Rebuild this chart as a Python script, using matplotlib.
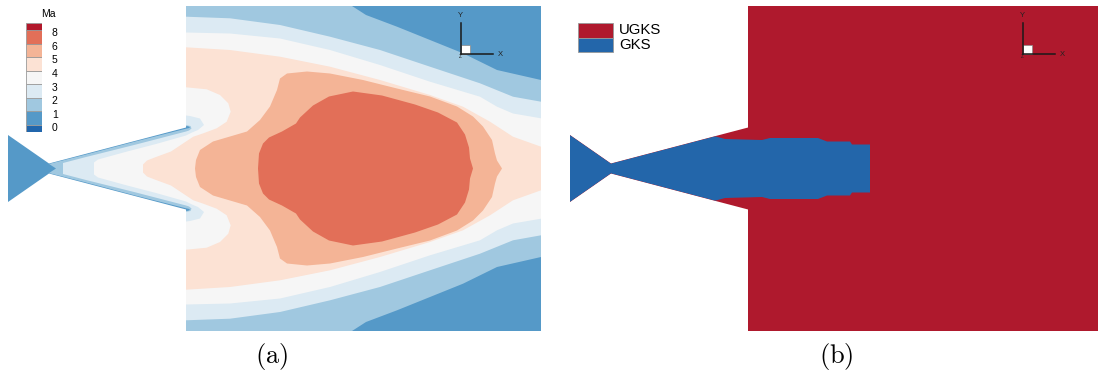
import numpy as np
import matplotlib.pyplot as plt
from matplotlib.patches import Polygon, Rectangle

plt.rcParams['font.family'] = ['Liberation Sans', 'DejaVu Sans']
plt.rcParams['mathtext.fontset'] = 'cm'

W, H = 1098, 374

# Mach number contour levels and band colours (lowest band first)
ma_levels = [0, 1, 2, 3, 4, 5, 6, 8]
band_colors = ['#2166ac', '#5599c8', '#a0c8e0', '#dceaf3', '#f6f6f6',
               '#fce2d4', '#f4b496', '#e26f58', '#b2182b']

# nozzle wall (x, r) and plenum chamber size
wall_x = [-178, -137, 2]
wall_r = [33.5, 5, 41.5]
chamber_len = 355
chamber_r = 162.5

# upper-half boundaries of the regions Ma >= level (closed on the axis)
ma1_x = [-130, -137, -100, -50, 0, 3, 4, 2, 0, 0, 166, 180, 211, 244, 277, 311, 355, 355]
ma1_r = [0, 4.6, 14.0, 27.2, 39.8, 40.4, 41.3, 42.3, 42.3, 162.5, 162.5, 153.5, 141.8, 128.5, 115.2, 98.5, 88.5, 0]

ma2_x = [-123, -123, -100, -50, 0, 3, 5.5, 4.5, 1, 0, 0, 44, 94, 144, 194, 244, 294, 327, 355, 355]
ma2_r = [0, 5.5, 11.5, 24.0, 37.0, 38, 40, 42.5, 43.2, 43.2, 151.8, 150.2, 143.5, 131.8, 118.5, 101.8, 85.2, 71.8, 66.8, 0]

ma3_x = [-92, -92, -88, -60, -30, 0, 6, 12, 18, 14, 4, 0, 0, 44, 94, 144, 194, 244, 294, 311, 327, 355, 355]
ma3_r = [0, 6, 9, 16.7, 24.5, 33, 36, 38.5, 43.5, 50, 52.5, 53, 136, 135, 130, 118.5, 103.5, 86.8, 71.8, 61.8, 55, 50.2, 0]

ma4_x = [-43, -43, -39, -30, -15, 0, 7.3, 17.3, 30.7, 40.7, 44.7, 42.3, 34, 20.7, 0, 0,
         44, 94, 144, 194, 244, 277, 304, 327, 355, 355]
ma4_r = [0, 4, 8, 11.5, 17, 27, 31.8, 35.2, 40.2, 46.8, 56.8, 65.2, 73.5, 79.2, 81.2, 121.2,
         118.5, 111.8, 101.8, 88.5, 73.5, 61.8, 46.8, 31.8, 21.8, 0]

ma5_x = [9, 10, 14, 27, 44, 61, 74, 84, 91, 94, 101, 121, 144, 177, 211, 244, 271, 287, 297, 306, 309, 311, 316]
ma5_r = [0, 8.5, 18.5, 27, 32, 37, 48.5, 62, 78.5, 90, 95, 97, 95, 88.5, 80, 72, 62, 52, 42, 28.5, 15, 8, 0]

ma6_x = [72, 73, 77, 83, 96, 110, 114, 127, 143, 167, 196, 229, 252, 271, 279, 283, 284, 287]
ma6_r = [0, 15, 25, 31, 37, 45, 51, 63, 72, 77, 73, 64, 56, 46, 34, 21, 10, 0]

# GKS sub-domain (upper half)
gks_x = [-178, -178, -137, -33, -23, 14, 22, 70, 79, 102, 104, 122, 122]
gks_r = [0, 33.5, 5, 32.2, 29.5, 28.5, 30.5, 30.5, 27, 27, 24, 24, 0]


def mirror(xs, rs):
    xs = list(xs)
    rs = list(rs)
    return np.column_stack([xs + xs[::-1], rs + [-r for r in rs[::-1]]])


def domain_patch():
    r0 = np.interp(0, wall_x, wall_r)
    up_x = wall_x[:2] + [0, 0, chamber_len]
    up_r = wall_r[:2] + [r0, chamber_r, chamber_r]
    return mirror(up_x, up_r)


def fig_box(x0, y0, x1, y1):
    return [x0 / W, 1 - y1 / H, (x1 - x0) / W, (y1 - y0) / H]


def setup(ax):
    ax.set_xlim(-178, 355)
    ax.set_ylim(-162.5, 162.5)
    ax.axis('off')


def triad(ax):
    ox, oy = 274.7, 114.2
    ax.add_patch(Rectangle((ox, oy), 9.3, 9.3, facecolor='white', edgecolor='#888888', lw=0.5, zorder=5))
    ax.plot([ox, ox], [oy, oy + 31.5], color='#1a1a1a', lw=1.1, zorder=6)
    ax.plot([ox, ox + 32], [oy, oy], color='#1a1a1a', lw=1.1, zorder=6)
    ax.text(ox, oy + 38.5, 'Y', fontsize=5.5, ha='center', va='center', color='#222222')
    ax.text(ox + 39.5, oy, 'X', fontsize=5.5, ha='center', va='center', color='#222222')
    ax.text(ox - 0.5, oy - 2.5, 'Z', fontsize=3.5, ha='center', va='center', color='#222222')


fig = plt.figure(figsize=(W / 100, H / 100), dpi=100)

# (a) Mach number field
ax1 = fig.add_axes(fig_box(8, 6, 541, 331))
setup(ax1)
dom = Polygon(domain_patch(), closed=True, facecolor=band_colors[1], edgecolor='none')
ax1.add_patch(dom)
levels_x = [ma1_x, ma2_x, ma3_x, ma4_x, ma5_x, ma6_x]
levels_r = [ma1_r, ma2_r, ma3_r, ma4_r, ma5_r, ma6_r]
for k, (lx, lr) in enumerate(zip(levels_x, levels_r)):
    p = Polygon(mirror(lx, lr), closed=True, facecolor=band_colors[k + 2], edgecolor='none')
    ax1.add_patch(p)
    p.set_clip_path(dom)
triad(ax1)

# contour legend
cax = fig.add_axes(fig_box(26, 23.3, 42, 131.7))
cax.set_xlim(0, 1)
cax.set_ylim(-0.5, 7.5)
cax.axis('off')
bottoms = [-0.5] + list(range(8))
heights = [0.5] + [1] * 7 + [0.5]
for b, h, c in zip(bottoms, heights, band_colors):
    cax.bar(0.5, h, bottom=b, width=1, color=c, edgecolor='#9a9a9a', lw=0.6)
for i, lev in enumerate(ma_levels):
    cax.text(1.8, i - 0.24, str(lev), fontsize=7.5, ha='center', va='center', clip_on=False)
fig.text(48 / W, 1 - 14 / H, 'Ma', fontsize=7.5, ha='center', va='center')

# (b) UGKS / GKS regions
ax2 = fig.add_axes(fig_box(570, 6, 1103, 331))
setup(ax2)
dom2 = Polygon(domain_patch(), closed=True, facecolor='#af192d', edgecolor='none')
ax2.add_patch(dom2)
g = Polygon(mirror(gks_x, gks_r), closed=True, facecolor='#2366aa', edgecolor='none')
ax2.add_patch(g)
g.set_clip_path(dom2)
triad(ax2)

ax2.add_patch(Rectangle((-170, 130.8), 35, 14.4, facecolor='#af192d', edgecolor='#999999', lw=0.6))
ax2.add_patch(Rectangle((-170, 116.3), 35, 14.5, facecolor='#2366aa', edgecolor='#999999', lw=0.6))
ax2.text(-129, 138.5, 'UGKS', fontsize=10.8, ha='left', va='center')
ax2.text(-129, 123.5, 'GKS', fontsize=10.8, ha='left', va='center')

fig.text(272 / W, 1 - 356 / H, r'$\mathrm{(a)}$', fontsize=19, ha='center', va='center')
fig.text(836 / W, 1 - 356 / H, r'$\mathrm{(b)}$', fontsize=19, ha='center', va='center')

fig.savefig('out.png', dpi=100)
